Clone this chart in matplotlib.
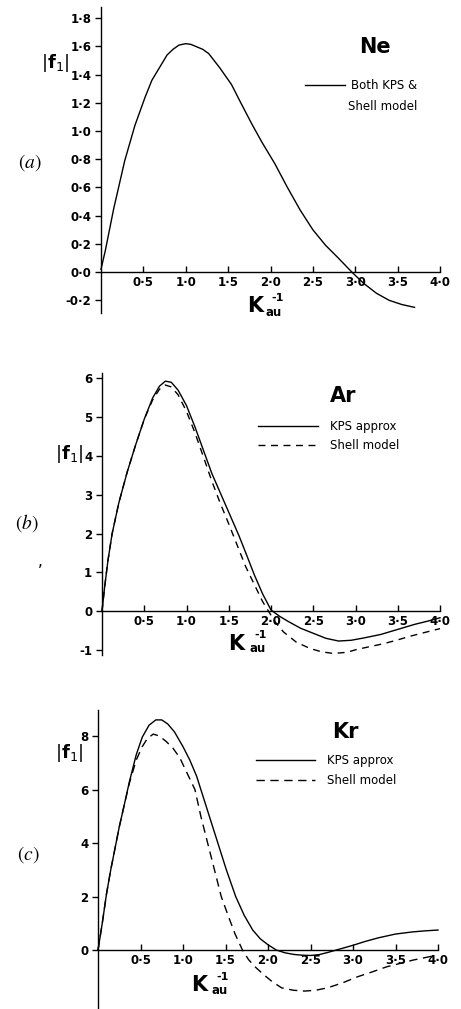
import matplotlib
matplotlib.use("Agg")
import matplotlib.pyplot as plt

W, H = 461, 1009

# (a) Ne - both KPS & shell model
ne_k = [0, 0.05, 0.15, 0.28, 0.4, 0.52, 0.6, 0.72, 0.78, 0.85, 0.92, 1.0, 1.06, 1.12, 1.2,
        1.27, 1.4, 1.54, 1.65, 1.78, 1.9, 2.05, 2.2, 2.35, 2.5, 2.65, 2.8, 2.96, 3.1, 3.25,
        3.4, 3.55, 3.7]
ne_f = [0.02, 0.15, 0.45, 0.79, 1.04, 1.24, 1.36, 1.48, 1.54, 1.58, 1.61, 1.62, 1.615, 1.60,
        1.58, 1.55, 1.45, 1.33, 1.2, 1.05, 0.92, 0.77, 0.6, 0.44, 0.3, 0.19, 0.1, 0.0, -0.08,
        -0.15, -0.2, -0.23, -0.25]

# (b) Ar
ar_kps_k = [0, 0.03, 0.07, 0.12, 0.2, 0.3, 0.4, 0.5, 0.6, 0.68, 0.75, 0.82, 0.9, 1.0, 1.1, 1.2,
            1.3, 1.42, 1.52, 1.62, 1.72, 1.8, 1.9, 2.0, 2.1, 2.2, 2.35, 2.5, 2.65, 2.8, 2.95,
            3.1, 3.3, 3.5, 3.7, 3.85, 4.0]
ar_kps_f = [0, 0.6, 1.3, 2.0, 2.8, 3.6, 4.3, 4.95, 5.5, 5.8, 5.93, 5.9, 5.7, 5.3, 4.75, 4.15,
            3.55, 2.95, 2.45, 1.95, 1.4, 0.95, 0.45, 0.03, -0.13, -0.26, -0.44, -0.57, -0.7,
            -0.77, -0.75, -0.69, -0.6, -0.47, -0.34, -0.26, -0.17]
ar_sh_k = [0, 0.03, 0.07, 0.12, 0.2, 0.3, 0.4, 0.5, 0.6, 0.68, 0.75, 0.82, 0.9, 1.0, 1.1, 1.2,
           1.3, 1.4, 1.5, 1.6, 1.7, 1.8, 1.9, 1.97, 2.05, 2.15, 2.3, 2.46, 2.6, 2.74, 2.9,
           3.01, 3.2, 3.33, 3.5, 3.64, 3.8, 4.0]
ar_sh_f = [0, 0.6, 1.3, 2.0, 2.8, 3.6, 4.3, 4.95, 5.45, 5.72, 5.83, 5.78, 5.58, 5.15, 4.6, 3.98,
           3.35, 2.78, 2.25, 1.7, 1.15, 0.7, 0.25, 0.0, -0.28, -0.54, -0.8, -0.96, -1.05, -1.09,
           -1.06, -0.99, -0.9, -0.84, -0.74, -0.65, -0.56, -0.45]

# (c) Kr
kr_kps_k = [0, 0.05, 0.1, 0.15, 0.2, 0.25, 0.3, 0.37, 0.45, 0.52, 0.6, 0.68, 0.75, 0.82, 0.9,
            1.0, 1.08, 1.16, 1.21, 1.31, 1.41, 1.51, 1.62, 1.72, 1.82, 1.91, 2.0,
            2.1, 2.2, 2.3, 2.4, 2.5, 2.6, 2.7, 2.8, 2.9, 3.0, 3.15, 3.3, 3.5, 3.7, 3.85, 4.0]
kr_kps_f = [0, 1.0, 2.1, 3.0, 3.8, 4.6, 5.3, 6.3, 7.3, 7.95, 8.4, 8.6, 8.6, 8.45, 8.15,
            7.6, 7.1, 6.5, 6.0, 5.0, 4.0, 3.0, 2.0, 1.3, 0.75, 0.42, 0.2,
            0.0, -0.1, -0.16, -0.19, -0.2, -0.17, -0.09, 0.0, 0.09, 0.18, 0.33, 0.46, 0.6,
            0.68, 0.72, 0.75]
kr_sh_k = [0, 0.05, 0.1, 0.15, 0.2, 0.25, 0.3, 0.37, 0.45, 0.52, 0.58, 0.65, 0.72, 0.8, 0.88,
           0.96, 1.02, 1.08, 1.14, 1.21, 1.29, 1.37, 1.45, 1.53, 1.61, 1.7, 1.77, 1.84,
           1.95, 2.05, 2.16, 2.3, 2.43, 2.56, 2.7, 2.88, 3.05, 3.22, 3.4, 3.55, 3.71, 3.85, 3.98]
kr_sh_f = [0, 1.0, 2.1, 3.0, 3.8, 4.6, 5.3, 6.25, 7.1, 7.6, 7.9, 8.07, 8.0, 7.8, 7.55,
           7.2, 6.8, 6.4, 6.0, 5.0, 4.0, 3.0, 2.0, 1.3, 0.62, 0.0, -0.35, -0.6,
           -0.92, -1.18, -1.41, -1.5, -1.53, -1.5, -1.41, -1.22, -1.0, -0.82, -0.62, -0.5,
           -0.37, -0.28, -0.19]

x_ticks = [0.5, 1.0, 1.5, 2.0, 2.5, 3.0, 3.5, 4.0]
x_labels = ["0·5", "1·0", "1·5", "2·0", "2·5", "3·0", "3·5", "4·0"]
a_yticks = [-0.2, 0.0, 0.2, 0.4, 0.6, 0.8, 1.0, 1.2, 1.4, 1.6, 1.8]
a_ylabels = ["-0·2", "0·0", "0·2", "0·4", "0·6", "0·8", "1·0", "1·2", "1·4", "1·6", "1·8"]
b_yticks = [-1, 0, 1, 2, 3, 4, 5, 6]
c_yticks = [0, 2, 4, 6, 8]

plt.rcParams['font.family'] = ['DejaVu Sans']

fig = plt.figure(figsize=(W / 100, H / 100), dpi=100)


def px(x, y):
    return x / W, 1 - y / H


def make_axes(left, right, top, bottom, ylim, yticks, ylabels):
    ax = fig.add_axes([left / W, 1 - bottom / H, (right - left) / W, (bottom - top) / H])
    ax.set_xlim(0, 4.0)
    ax.set_ylim(*ylim)
    ax.spines['top'].set_visible(False)
    ax.spines['right'].set_visible(False)
    ax.spines['bottom'].set_position(('data', 0))
    for s in ('left', 'bottom'):
        ax.spines[s].set_linewidth(1.0)
    ax.set_xticks(x_ticks, labels=x_labels)
    ax.set_yticks(yticks, labels=ylabels)
    ax.tick_params(axis='x', direction='in', length=4, width=1, pad=3, labelsize=8.5)
    ax.tick_params(axis='y', direction='out', length=4, width=1, pad=3, labelsize=8.5)
    for lab in ax.get_xticklabels() + ax.get_yticklabels():
        lab.set_fontweight('bold')
    ax.patch.set_alpha(0)
    return ax


def k_label(x, y, x2, y_sub, y_sup):
    fig.text(*px(x, y), 'K', fontsize=15, fontweight='bold', ha='left', va='center')
    fig.text(*px(x2, y_sub), 'au', fontsize=8.5, fontweight='bold', ha='left', va='center')
    fig.text(*px(x2 + 5, y_sup), '-1', fontsize=8, fontweight='bold', ha='left', va='center')


def f_label(x, y):
    fig.text(*px(x, y), r'$|\mathbf{f}_{1}|$', fontsize=13, ha='center', va='center')


def panel_label(x, y, s):
    fig.text(*px(x, y), s, fontsize=14, ha='center', va='center', math_fontfamily='stix')


def add_legend(ax, handles, labels, x, y, hl, pad, spacing):
    ax.legend(handles, labels, loc='center left', bbox_to_anchor=(x, y), frameon=False,
              borderaxespad=0, borderpad=0, handlelength=hl, handletextpad=pad,
              labelspacing=spacing, fontsize=8.5)


# ---- (a) Ne
ax1 = make_axes(101, 440, 7, 313, (-0.29, 1.88), a_yticks, a_ylabels)
l1, = ax1.plot(ne_k, ne_f, color='black', lw=1.0, clip_on=False)
add_legend(ax1, [l1], ['Both KPS &'], 0.602, 0.742, 3.4, 0.45, 0.5)
fig.text(*px(348, 107), 'Shell model', fontsize=8.5, ha='left', va='center')
fig.text(*px(375, 47), 'Ne', fontsize=15, fontweight='bold', ha='center', va='center')
f_label(55, 63)
k_label(247, 306, 266, 312, 298)
panel_label(30, 163, r'$(a)$')

# ---- (b) Ar
ax2 = make_axes(102, 440, 373, 655, (-1.13, 6.14), b_yticks, [str(v) for v in b_yticks])
l2, = ax2.plot(ar_kps_k, ar_kps_f, color='black', lw=1.0, clip_on=False)
l3, = ax2.plot(ar_sh_k, ar_sh_f, color='black', lw=1.0, ls=(0, (5, 4)), clip_on=False)
add_legend(ax2, [l2, l3], ['KPS approx', 'Shell model'], 0.4615, 0.777, 5.1, 1.0, 0.5)
fig.text(*px(343, 396), 'Ar', fontsize=15, fontweight='bold', ha='center', va='center')
f_label(69, 454)
k_label(228, 644, 249, 648, 635)
panel_label(27, 523, r'$(b)$')
fig.text(*px(40, 562), ',', fontsize=11, ha='center', va='center')

# ---- (c) Kr
ax3 = make_axes(98, 438, 710, 1009, (-2.2, 8.97), c_yticks, [str(v) for v in c_yticks])
l4, = ax3.plot(kr_kps_k, kr_kps_f, color='black', lw=1.0, clip_on=False)
l5, = ax3.plot(kr_sh_k, kr_sh_f, color='black', lw=1.0, ls=(0, (6, 4)), clip_on=False)
add_legend(ax3, [l4, l5], ['KPS approx', 'Shell model'], 0.465, 0.798, 5.0, 1.0, 0.6)
fig.text(*px(345, 732), 'Kr', fontsize=15, fontweight='bold', ha='center', va='center')
f_label(69, 753)
k_label(191, 985, 211, 991, 977)
panel_label(28, 855, r'$(c)$')

fig.savefig('out.png', dpi=100)
